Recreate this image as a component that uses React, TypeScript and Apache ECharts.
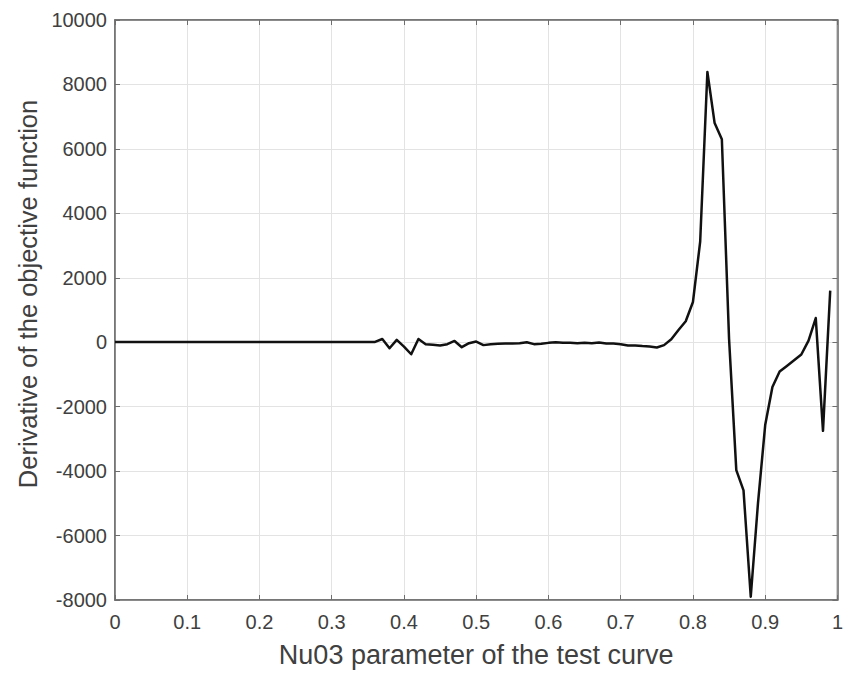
import React, { useEffect, useRef } from "react";
import * as echarts from "echarts";

const xValues: number[] = [
  0, 0.36, 0.37, 0.38, 0.39, 0.4, 0.41, 0.42, 0.43, 0.44, 0.45, 0.46, 0.47, 0.48, 0.49,
  0.5, 0.51, 0.52, 0.53, 0.54, 0.55, 0.56, 0.57, 0.58, 0.59, 0.6, 0.61, 0.62, 0.63, 0.64,
  0.65, 0.66, 0.67, 0.68, 0.69, 0.7, 0.71, 0.72, 0.73, 0.74, 0.75, 0.76, 0.77, 0.78, 0.79,
  0.8, 0.81, 0.82, 0.83, 0.84, 0.85, 0.86, 0.87, 0.88, 0.89, 0.9, 0.91, 0.92, 0.93, 0.94,
  0.95, 0.96, 0.97, 0.98, 0.99,
];
const derivValues: number[] = [
  10, 10, 100, -186, 72, -135, -373, 100, -60, -80, -100, -60, 40, -155, -30,
  20, -90, -60, -50, -40, -40, -30, 0, -60, -50, -20, 0, -20, -20, -30,
  -20, -30, -10, -40, -40, -60, -100, -100, -120, -135, -165, -90, 90, 380, 650,
  1250, 3120, 8390, 6800, 6300, 100, -3970, -4600, -7900, -5000, -2570, -1390, -910, -735, -560,
  -380, 50, 750, -2750, 1600,
];
const xTicks: number[] = [0, 0.1, 0.2, 0.3, 0.4, 0.5, 0.6, 0.7, 0.8, 0.9, 1];
const yTicks: number[] = [-8000, -6000, -4000, -2000, 0, 2000, 4000, 6000, 8000, 10000];
const xTitle = "Nu03 parameter of the test curve";
const yTitle = "Derivative of the objective function";

export default function App() {
  const ref = useRef<HTMLDivElement>(null);
  useEffect(() => {
    if (!ref.current) return;
    const chart = echarts.init(ref.current, undefined, { renderer: "svg" });
    const textColor = "#404040";
    const axisColor = "#6e6e6e";
    const gridColor = "#e3e3e3";
    const font = "Liberation Sans, Arial, sans-serif";
    const data = xValues.map((x, i) => [x, derivValues[i]]);
    chart.setOption({
      animation: false,
      backgroundColor: "#ffffff",
      grid: {
        left: 115,
        right: 6,
        top: 20,
        bottom: 75,
        show: true,
        borderColor: axisColor,
        borderWidth: 1.5,
        containLabel: false,
      },
      graphic: [
        {
          type: "text",
          x: 28,
          y: 294,
          rotation: Math.PI / 2,
          style: {
            text: yTitle,
            fontSize: 25.5,
            fontFamily: font,
            fill: textColor,
            textAlign: "center",
            textVerticalAlign: "middle",
          },
        },
      ],
      xAxis: [
        {
          type: "value",
          min: xTicks[0],
          max: xTicks[xTicks.length - 1],
          interval: 0.1,
          name: xTitle,
          nameLocation: "middle",
          nameGap: 41,
          nameTextStyle: { fontSize: 27, color: textColor, fontFamily: font },
          axisLine: { show: true, onZero: false, lineStyle: { color: axisColor, width: 1.5 } },
          axisTick: { show: true, inside: true, length: 5, lineStyle: { color: axisColor } },
          axisLabel: {
            fontSize: 20,
            color: textColor,
            fontFamily: font,
            margin: 12,
            formatter: (v: number) => String(Math.round(v * 10) / 10),
          },
          splitLine: { show: true, lineStyle: { color: gridColor, width: 1 } },
        },
        {
          type: "value",
          position: "top",
          min: xTicks[0],
          max: xTicks[xTicks.length - 1],
          interval: 0.1,
          axisLine: { show: true, onZero: false, lineStyle: { color: axisColor, width: 1.5 } },
          axisTick: { show: true, inside: true, length: 5, lineStyle: { color: axisColor } },
          axisLabel: { show: false },
          splitLine: { show: false },
        },
      ],
      yAxis: [
        {
          type: "value",
          min: yTicks[0],
          max: yTicks[yTicks.length - 1],
          interval: 2000,
          axisLine: { show: true, onZero: false, lineStyle: { color: axisColor, width: 1.5 } },
          axisTick: { show: true, inside: true, length: 5, lineStyle: { color: axisColor } },
          axisLabel: {
            fontSize: 20,
            color: textColor,
            fontFamily: font,
            margin: 8,
            formatter: (v: number) => String(v),
          },
          splitLine: { show: true, lineStyle: { color: gridColor, width: 1 } },
        },
        {
          type: "value",
          position: "right",
          min: yTicks[0],
          max: yTicks[yTicks.length - 1],
          interval: 2000,
          axisLine: { show: true, onZero: false, lineStyle: { color: axisColor, width: 1.5 } },
          axisTick: { show: true, inside: true, length: 5, lineStyle: { color: axisColor } },
          axisLabel: { show: false },
          splitLine: { show: false },
        },
      ],
      series: [
        {
          type: "line",
          data,
          xAxisIndex: 0,
          yAxisIndex: 0,
          showSymbol: false,
          symbol: "none",
          lineStyle: { color: "#111111", width: 2.5, join: "round" },
        },
      ],
    });
    return () => chart.dispose();
  }, []);
  return (
    <div
      ref={ref}
      style={{ position: "fixed", left: 0, top: 0, width: 846, height: 675, background: "#fff" }}
    />
  );
}
